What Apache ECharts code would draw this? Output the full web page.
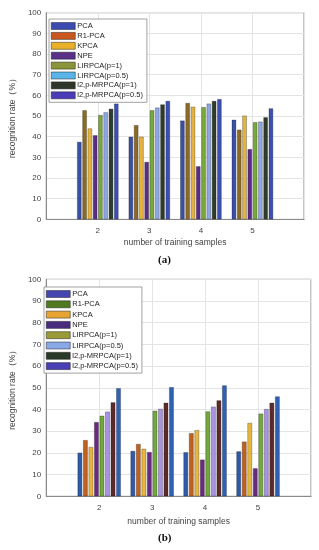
<!DOCTYPE html>
<html>
<head>
<meta charset="utf-8">
<script src="https://cdn.jsdelivr.net/npm/echarts@6/dist/echarts.min.js"></script>
<style>
html,body{margin:0;padding:0;background:#fff;}
#c{width:319px;height:550px;}
</style>
</head>
<body>
<div id="c"></div>
<script>
// x-axis runs from 1 to 6 (MATLAB xlim), bars at 2..5
const axisCategories = ['1', '2', '3', '4', '5', '6'];
const shownCategories = ['2', '3', '4', '5'];
const seriesNames = ['PCA', 'R1-PCA', 'KPCA', 'NPE', 'LIRPCA(p=1)', 'LIRPCA(p=0.5)', 'l2,p-MRPCA(p=1)', 'l2,p-MRPCA(p=0.5)'];
const yTicks = [0, 10, 20, 30, 40, 50, 60, 70, 80, 90, 100];

// chart (a) values for 2,3,4,5 training samples
const pcaA      = [37.5, 40.0, 47.8, 48.2];
const r1pcaA    = [52.8, 45.6, 56.3, 43.4];
const kpcaA     = [44.0, 40.0, 54.5, 50.2];
const npeA      = [40.7, 27.8, 25.7, 34.0];
const lirpca1A  = [50.5, 52.8, 54.3, 47.0];
const lirpca05A = [51.8, 54.1, 56.0, 47.3];
const mrpca1A   = [53.5, 55.6, 57.3, 49.4];
const mrpca05A  = [56.0, 57.3, 58.2, 53.7];

// chart (b) values
const pcaB      = [20.1, 20.9, 20.3, 20.7];
const r1pcaB    = [25.9, 24.1, 29.1, 25.2];
const kpcaB     = [22.7, 21.9, 30.5, 33.8];
const npeB      = [34.2, 20.4, 16.9, 12.9];
const lirpca1B  = [37.1, 39.4, 39.1, 38.1];
const lirpca05B = [39.0, 40.3, 41.3, 40.2];
const mrpca1B   = [43.3, 43.1, 44.2, 43.1];
const mrpca05B  = [49.8, 50.3, 51.1, 46.0];

const seriesA = [pcaA, r1pcaA, kpcaA, npeA, lirpca1A, lirpca05A, mrpca1A, mrpca05A];
const seriesB = [pcaB, r1pcaB, kpcaB, npeB, lirpca1B, lirpca05B, mrpca1B, mrpca05B];

const barColorsA = ['#3a4fa6', '#8c6a26', '#e3b240', '#5b2d86', '#78a83c', '#8ea6e4', '#2e3d2b', '#3c4fb2'];
const legendColorsA = ['#3b4bb0', '#c8581e', '#e8b028', '#5a2f86', '#8a9438', '#5ab4e8', '#2d3629', '#4a3cb8'];
const barColorsB = ['#2f5aa8', '#c0621f', '#e6b63e', '#6a2a80', '#72a83c', '#a892e2', '#5c2a2a', '#2f60b4'];
const legendColorsB = ['#4646b0', '#4f7a22', '#e8a432', '#4a2c7e', '#9a9a38', '#88a8e8', '#2a3a28', '#4a3eb4'];

const FONT = 'Liberation Sans, Arial, sans-serif';
const TXT = '#444';

function padData(vals) {
  // place values on categories 2..5; categories 1 and 6 have no bar
  return axisCategories.map(c => {
    const i = shownCategories.indexOf(c);
    return i >= 0 ? vals[i] : null;
  });
}

function xAxisFor(gridIndex, gap) {
  return {
    type: 'category', gridIndex, data: axisCategories, boundaryGap: false,
    axisLine: {show: true, lineStyle: {color: '#8a8a8a', width: 1}},
    axisTick: {show: false},
    axisLabel: {interval: 0, color: TXT, fontSize: 8, fontFamily: FONT, margin: 7,
      formatter: v => shownCategories.indexOf(v) >= 0 ? v : ''},
    splitLine: {show: true, lineStyle: {color: '#e4e4e4', width: 1}},
    name: 'number of training samples', nameLocation: 'middle', nameGap: gap,
    nameTextStyle: {color: TXT, fontSize: 8.5, fontFamily: FONT}
  };
}
function yAxisFor(gridIndex, gap) {
  return {
    type: 'value', gridIndex, min: yTicks[0], max: yTicks[yTicks.length - 1], interval: 10,
    axisLine: {show: true, lineStyle: {color: '#8a8a8a', width: 1}},
    axisTick: {show: false},
    axisLabel: {color: TXT, fontSize: 8, fontFamily: FONT, margin: 5},
    splitLine: {show: true, lineStyle: {color: '#e4e4e4', width: 1}},
    name: 'recognition rate（%）', nameLocation: 'middle', nameGap: gap, nameRotate: 90,
    nameTextStyle: {color: TXT, fontSize: 8.5, fontFamily: FONT}
  };
}

const series = [];
seriesA.forEach((vals, k) => series.push({
  type: 'bar', name: seriesNames[k], xAxisIndex: 0, yAxisIndex: 0,
  data: padData(vals), barWidth: 4.4, barGap: '20%',
  itemStyle: {color: barColorsA[k], borderColor: 'rgba(20,20,20,0.55)', borderWidth: 0.5},
  emphasis: {disabled: true}, animation: false
}));
seriesB.forEach((vals, k) => series.push({
  type: 'bar', name: seriesNames[k], xAxisIndex: 1, yAxisIndex: 1,
  data: padData(vals), barWidth: 4.6, barGap: '20%',
  itemStyle: {color: barColorsB[k], borderColor: 'rgba(20,20,20,0.55)', borderWidth: 0.5},
  emphasis: {disabled: true}, animation: false
}));

function legendFor(colors, left, top, gap) {
  return {
    orient: 'vertical', left, top, itemWidth: 24, itemHeight: 7, itemGap: gap,
    padding: [3, 4, 3, 2], backgroundColor: '#fff', borderColor: '#8a8a8a', borderWidth: 0.8,
    selectedMode: false, icon: 'rect',
    textStyle: {color: '#222', fontSize: 7.5, fontFamily: FONT, lineHeight: 8, padding: [0, 0, 0, -3]},
    data: seriesNames.map((n, k) => ({name: n, itemStyle: {color: colors[k], borderColor: '#222', borderWidth: 0.5}}))
  };
}

const option = {
  backgroundColor: '#fff',
  animation: false,
  grid: [
    {left: 41, top: 12.7, width: 263, height: 206.7, show: true, borderColor: '#8a8a8a', borderWidth: 1, backgroundColor: 'transparent'},
    {left: 35, top: 279.3, width: 276, height: 217, show: true, borderColor: '#8a8a8a', borderWidth: 1, backgroundColor: 'transparent'}
  ],
  xAxis: [xAxisFor(0, 19), xAxisFor(1, 21)],
  yAxis: [yAxisFor(0, 22), yAxisFor(1, 24)],
  legend: [legendFor(legendColorsA, 49, 19, 1.9), legendFor(legendColorsB, 44, 287, 2.3)],
  title: [
    {text: '(a)', left: 158, top: 255, padding: 0, textStyle: {fontFamily: 'Liberation Serif, serif', fontWeight: 'bold', fontSize: 11, color: '#111'}},
    {text: '(b)', left: 158, top: 533, padding: 0, textStyle: {fontFamily: 'Liberation Serif, serif', fontWeight: 'bold', fontSize: 11, color: '#111'}}
  ],
  series
};
const chart = echarts.init(document.getElementById('c'), null, {renderer: 'canvas'});
chart.setOption(option);
</script>
</body>
</html>
